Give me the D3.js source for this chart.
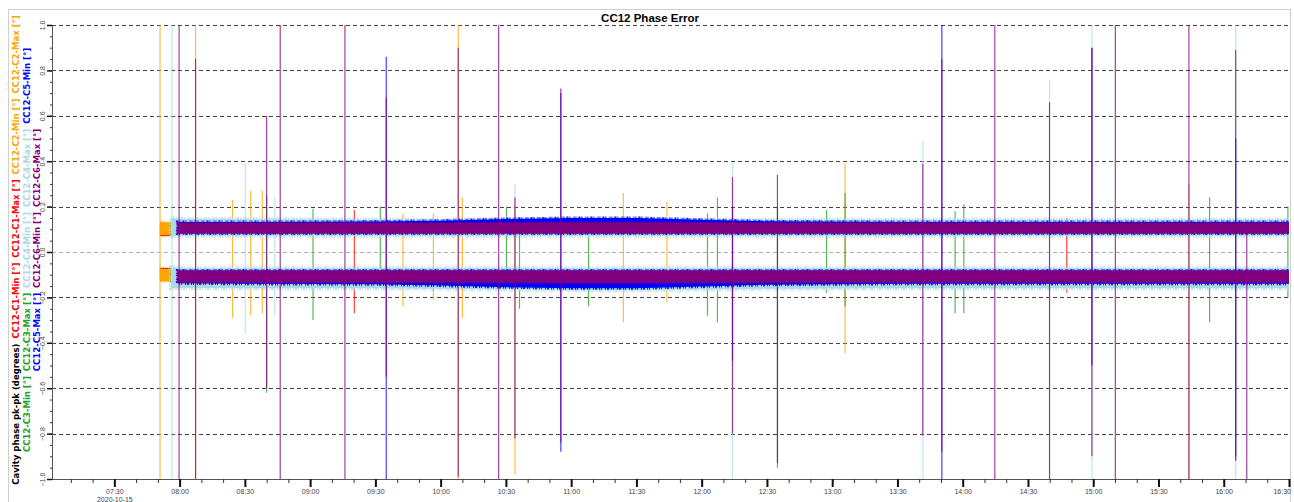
<!DOCTYPE html>
<html>
<head>
<meta charset="utf-8">
<script src="https://cdn.jsdelivr.net/npm/d3@7"></script>
<style>
  body { margin: 0; background: #fff; }
  svg { display: block; font-family: "Liberation Sans", Arial, sans-serif; }
</style>
</head>
<body>
<svg id="chart" width="1294" height="502"></svg>
<script>
// ---- data ----
const day = "2020-10-15";
const chartTitle = "CC12 Phase Error";
const yTitle = "Cavity phase pk-pk (degrees)";
const cavities = ["C1", "C2", "C3", "C4", "C5", "C6"];
const yTicks = [-1, -0.8, -0.6, -0.4, -0.2, 0, 0.2, 0.4, 0.6, 0.8, 1];
const xStart = "07:01:20", xEnd = "16:30:00";

// envelope of each pk-pk band (rows = C1..C6), sampled at bandTimes
const bandTimes = ["07:51","07:56","07:59","08:30","09:30","10:00","10:30","11:00","11:30","12:00","12:30","13:30","14:30","15:30","16:30"];
const maxUpper = [
  [0.125,0.12,0.12,0.12,0.12,0.12,0.12,0.12,0.12,0.12,0.12,0.12,0.12,0.12,0.12],
  [0.133,0.13,0.125,0.125,0.125,0.125,0.125,0.125,0.125,0.125,0.125,0.125,0.125,0.125,0.125],
  [null,0.135,0.135,0.13,0.13,0.13,0.13,0.13,0.13,0.13,0.13,0.13,0.13,0.13,0.13],
  [null,0.15,0.145,0.145,0.142,0.142,0.145,0.148,0.148,0.142,0.142,0.142,0.142,0.142,0.142],
  [null,null,0.132,0.132,0.134,0.138,0.145,0.15,0.15,0.142,0.135,0.132,0.132,0.132,0.132],
  [null,null,0.127,0.127,0.127,0.127,0.128,0.129,0.129,0.128,0.127,0.127,0.127,0.127,0.127]
];
const maxLower = [
  [0.07,0.07,0.08,0.08,0.08,0.08,0.08,0.08,0.08,0.08,0.08,0.08,0.08,0.08,0.08],
  [0.075,0.075,0.081,0.081,0.081,0.081,0.081,0.081,0.081,0.081,0.081,0.081,0.081,0.081,0.081],
  [null,0.078,0.082,0.082,0.082,0.082,0.082,0.082,0.082,0.082,0.082,0.082,0.082,0.082,0.082],
  [null,0.068,0.072,0.072,0.072,0.072,0.072,0.072,0.072,0.072,0.072,0.072,0.072,0.072,0.072],
  [null,null,0.081,0.081,0.081,0.081,0.081,0.081,0.081,0.081,0.081,0.081,0.081,0.081,0.081],
  [null,null,0.084,0.084,0.084,0.084,0.084,0.084,0.084,0.084,0.084,0.084,0.084,0.084,0.084]
];
const minUpper = [
  [-0.07,-0.07,-0.081,-0.081,-0.081,-0.081,-0.081,-0.081,-0.081,-0.081,-0.081,-0.081,-0.081,-0.081,-0.081],
  [-0.075,-0.075,-0.082,-0.082,-0.082,-0.082,-0.082,-0.082,-0.082,-0.082,-0.082,-0.082,-0.082,-0.082,-0.082],
  [null,-0.078,-0.083,-0.083,-0.083,-0.083,-0.083,-0.083,-0.083,-0.083,-0.083,-0.083,-0.083,-0.083,-0.083],
  [null,-0.068,-0.072,-0.072,-0.072,-0.072,-0.072,-0.072,-0.072,-0.072,-0.072,-0.072,-0.072,-0.072,-0.072],
  [null,null,-0.081,-0.081,-0.081,-0.081,-0.081,-0.081,-0.081,-0.081,-0.081,-0.081,-0.081,-0.081,-0.081],
  [null,null,-0.084,-0.084,-0.084,-0.084,-0.084,-0.084,-0.084,-0.084,-0.084,-0.084,-0.084,-0.084,-0.084]
];
const minLower = [
  [-0.125,-0.125,-0.125,-0.125,-0.125,-0.125,-0.125,-0.125,-0.125,-0.125,-0.125,-0.125,-0.125,-0.125,-0.125],
  [-0.13,-0.13,-0.13,-0.13,-0.13,-0.13,-0.13,-0.13,-0.13,-0.13,-0.13,-0.13,-0.13,-0.13,-0.13],
  [null,-0.138,-0.138,-0.138,-0.138,-0.138,-0.138,-0.138,-0.138,-0.138,-0.138,-0.138,-0.138,-0.138,-0.138],
  [null,-0.16,-0.158,-0.16,-0.16,-0.162,-0.165,-0.168,-0.168,-0.165,-0.162,-0.16,-0.16,-0.16,-0.16],
  [null,null,-0.138,-0.14,-0.142,-0.148,-0.155,-0.16,-0.16,-0.152,-0.144,-0.14,-0.14,-0.14,-0.14],
  [null,null,-0.133,-0.133,-0.133,-0.133,-0.134,-0.135,-0.135,-0.134,-0.133,-0.133,-0.133,-0.133,-0.133]
];

// excursions: [time, cavity (1-6), high, low]
const spikes = [
  ["07:51:00",2,1.05,-1.05], ["07:56:30",4,1.05,-1.05], ["07:59:45",6,1.05,-1.05],
  ["08:07:20",2,1.05,-1.05], ["08:07:20",6,0.85,-1.05],
  ["08:24:20",2,0.23,-0.29], ["08:30:10",4,0.39,-0.36], ["08:32:40",2,0.27,-0.28],
  ["08:38:00",2,0.27,-0.27], ["08:40:00",3,0.25,-0.62], ["08:40:00",6,0.60,-0.60],
  ["08:43:45",4,0.24,-0.28], ["08:46:15",6,1.05,-1.05], ["09:01:20",3,0.19,-0.30],
  ["09:16:00",6,1.05,-1.05], ["09:20:20",1,0.185,-0.27], ["09:32:15",3,0.2,-0.15],
  ["09:35:00",5,0.86,-1.05], ["09:35:00",6,0.68,-0.55], ["09:42:40",2,0.17,-0.24],
  ["09:56:40",2,0.17,-0.21], ["10:08:05",2,1.05,-1.05], ["10:08:05",6,0.9,-0.99],
  ["10:10:00",2,0.24,-0.29], ["10:26:40",6,1.05,-1.05], ["10:30:15",3,0.2,-0.16],
  ["10:34:10",4,0.3,-0.2], ["10:34:10",2,0.2,-0.98], ["10:34:10",6,0.24,-0.82],
  ["10:36:15",3,0.15,-0.25], ["10:55:15",5,0.7,-0.88], ["10:55:15",6,0.72,-0.84],
  ["11:08:00",3,0.15,-0.24], ["11:24:00",2,0.26,-0.31], ["11:44:00",2,0.22,-0.22],
  ["12:02:40",3,0.17,-0.28], ["12:07:15",3,0.24,-0.31], ["12:14:10",4,0.39,-1.05],
  ["12:14:10",5,0.2,-0.48], ["12:14:10",6,0.33,-0.80], ["12:34:50",3,0.2,-0.95],
  ["12:34:50",6,0.34,-0.93], ["12:57:25",3,0.185,-0.18], ["13:05:55",2,0.39,-0.445],
  ["13:05:55",3,0.26,-0.24], ["13:41:40",4,0.49,-1.05], ["13:41:40",6,0.39,-0.81],
  ["13:50:25",5,1.05,-1.05], ["13:50:25",6,0.85,-0.88], ["13:56:30",3,0.18,-0.27],
  ["14:00:30",3,0.21,-0.27], ["14:14:45",6,1.05,-1.05], ["14:39:55",4,0.76,-1.05],
  ["14:39:55",6,0.66,-1.05], ["14:47:50",1,0.15,-0.18], ["14:59:25",4,1.05,-1.05],
  ["14:59:25",5,0.9,-0.5], ["14:59:25",6,0.9,-0.9], ["15:10:10",6,1.05,-1.05],
  ["15:44:00",2,0.3,-1.05], ["15:44:00",6,1.05,-1.05], ["15:53:30",3,0.24,-0.31],
  ["16:05:30",4,1.05,-1.05], ["16:05:30",5,0.5,-0.92], ["16:05:30",6,0.89,-0.9],
  ["16:10:35",6,0.1,-1.05], ["16:29:30",3,0.2,-0.2]
];

// ---- drawing ----
const palette = ["#ff0000", "#ffa500", "#22a022", "#add8e6", "#0000ff", "#800080"];
// edge strokes give the bands their hairy noise look
const bandEdge = [
  {w: 1, dash: "1,2", op: 0.8},
  {w: 1, dash: "1,1", op: 0.8},
  {w: 1.5, dash: "1,2,1,3", op: 0.9},
  {w: 4, dash: "1,1,2,1,1,2", op: 0.8},
  {w: 3, dash: "1,1,1,2,2,1,1,3", op: 0.9},
  {w: 2, dash: "1,1,2,1", op: 1}
];
const parse = d3.timeParse("%Y-%m-%d %H:%M:%S");
const at = s => parse(day + " " + (s.length === 5 ? s + ":00" : s));

const plotLeft = 52, plotRight = 1289, plotTop = 25, plotBottom = 479;
const x = d3.scaleTime().domain([at(xStart), at(xEnd)]).range([plotLeft, plotRight]);
const y = d3.scaleLinear().domain([-1, 1]).range([plotBottom, plotTop]);

const svg = d3.select("#chart");

// outer frame
svg.append("rect")
  .attr("x", 8.5).attr("y", 9.5).attr("width", 1282).attr("height", 500)
  .attr("fill", "none").attr("stroke", "#cfcfcf");

svg.append("text")
  .attr("x", 650).attr("y", 22)
  .attr("text-anchor", "middle")
  .style("font-size", "11.5px").style("font-weight", "bold")
  .text(chartTitle);

// dashed grid
svg.append("g").selectAll("line")
  .data(yTicks)
  .join("line")
    .attr("x1", plotLeft).attr("x2", plotRight)
    .attr("y1", d => Math.round(y(d)) + 0.5).attr("y2", d => Math.round(y(d)) + 0.5)
    .attr("stroke", d => d === 0 ? "#b0b0b0" : "#444")
    .attr("stroke-dasharray", "4,3");

svg.append("clipPath").attr("id", "plot")
  .append("rect").attr("x", plotLeft).attr("y", plotTop)
  .attr("width", plotRight - plotLeft).attr("height", plotBottom - plotTop);

const plot = svg.append("g").attr("clip-path", "url(#plot)");
const times = bandTimes.map(at);

const area = d3.area()
  .defined(d => d.hi != null)
  .x(d => x(d.t))
  .y0(d => y(d.lo))
  .y1(d => y(d.hi));

cavities.forEach((c, i) => {
  const g = plot.append("g");
  const bands = [
    times.map((t, k) => ({t, hi: maxUpper[i][k], lo: maxLower[i][k]})),
    times.map((t, k) => ({t, hi: minUpper[i][k], lo: minLower[i][k]}))
  ];
  g.selectAll("path")
    .data(bands)
    .join("path")
      .attr("d", area)
      .attr("fill", palette[i])
      .attr("stroke", palette[i])
      .attr("stroke-width", bandEdge[i].w)
      .attr("stroke-dasharray", bandEdge[i].dash)
      .attr("stroke-opacity", bandEdge[i].op);

  g.selectAll("line")
    .data(spikes.filter(s => s[1] === i + 1))
    .join("line")
      .attr("x1", d => x(at(d[0]))).attr("x2", d => x(at(d[0])))
      .attr("y1", d => y(d[2])).attr("y2", d => y(d[3]))
      .attr("stroke", palette[i])
      .attr("stroke-opacity", 0.75)
      .attr("stroke-width", 1.2);
});

// x axis
const xAxis = svg.append("g").attr("transform", `translate(0,${plotBottom})`);
xAxis.append("g")
  .call(d3.axisBottom(x).ticks(d3.timeMinute.every(10)).tickSize(4).tickSizeOuter(0).tickFormat(""))
  .call(g => g.select(".domain").attr("stroke", "#555"))
  .call(g => g.selectAll(".tick line").attr("stroke", "#333"));
xAxis.append("g")
  .call(d3.axisBottom(x).ticks(d3.timeMinute.every(30)).tickSize(8).tickSizeOuter(0).tickFormat(d3.timeFormat("%H:%M")))
  .call(g => g.select(".domain").remove())
  .call(g => g.selectAll(".tick line").attr("stroke", "#111").attr("stroke-width", 2))
  .call(g => g.selectAll(".tick text")
    .attr("y", 14.5).attr("dy", 0)
    .attr("fill", "#444")
    .style("font-size", "7px").style("font-family", "'Liberation Sans', Arial, sans-serif"))
  .call(g => g.select(".tick text").append("tspan")
    .attr("x", 0).attr("dy", 8).text(day))
  .call(g => g.select(".tick:last-of-type text").attr("text-anchor", "end").attr("x", 1.5));

// y axis
const yAxis = svg.append("g").attr("transform", `translate(${plotLeft},0)`);
yAxis.append("g")
  .call(d3.axisLeft(y).ticks(50).tickSize(2).tickSizeOuter(0).tickFormat(""))
  .call(g => g.select(".domain").attr("stroke", "#555"))
  .call(g => g.selectAll(".tick line").attr("stroke", "#333"));
yAxis.append("g")
  .call(d3.axisLeft(y).tickValues(yTicks).tickSize(5).tickSizeOuter(0).tickFormat(d3.format(".1f")))
  .call(g => g.select(".domain").remove())
  .call(g => g.selectAll(".tick line").attr("stroke", "#111").attr("stroke-width", 1.5))
  .call(g => g.selectAll(".tick text")
    .attr("x", 0).attr("dy", 0)
    .attr("text-anchor", "middle")
    .attr("transform", "translate(-7,0) rotate(-90)")
    .attr("fill", "#444")
    .style("font-size", "7px").style("font-family", "'Liberation Sans', Arial, sans-serif"));

// rotated legend, wrapped in columns along the left edge
const legendItems = [{label: yTitle, color: "#000"}].concat(
  cavities.flatMap((c, i) => [
    {label: `CC12-${c}-Min [°]`, color: palette[i]},
    {label: `CC12-${c}-Max [°]`, color: palette[i]}
  ]));

const legend = svg.append("g")
  .style("font-family", "'DejaVu Sans', sans-serif")
  .style("font-size", "8.5px").style("font-weight", "bold");

const texts = legend.selectAll("text")
  .data(legendItems)
  .join("text")
    .attr("fill", d => d.color)
    .text(d => d.label);
texts.each(function (d) { d.len = this.getComputedTextLength(); });

const maxLen = 480, gap = 5, colX = [18.5, 29.5, 40.2];
const columns = [[]];
let used = 0;
legendItems.forEach(d => {
  const need = used === 0 ? d.len : used + gap + d.len;
  if (need > maxLen) { columns.push([d]); used = d.len; }
  else { columns[columns.length - 1].push(d); used = need; }
});
columns.forEach((col, ci) => {
  const total = d3.sum(col, d => d.len) + gap * (col.length - 1);
  let pos = 250 + total / 2;
  col.forEach(d => { d.cx = colX[ci]; d.cy = pos; pos -= d.len + gap; });
});
texts.attr("transform", d => `translate(${d.cx},${d.cy}) rotate(-90)`);
</script>
</body>
</html>
